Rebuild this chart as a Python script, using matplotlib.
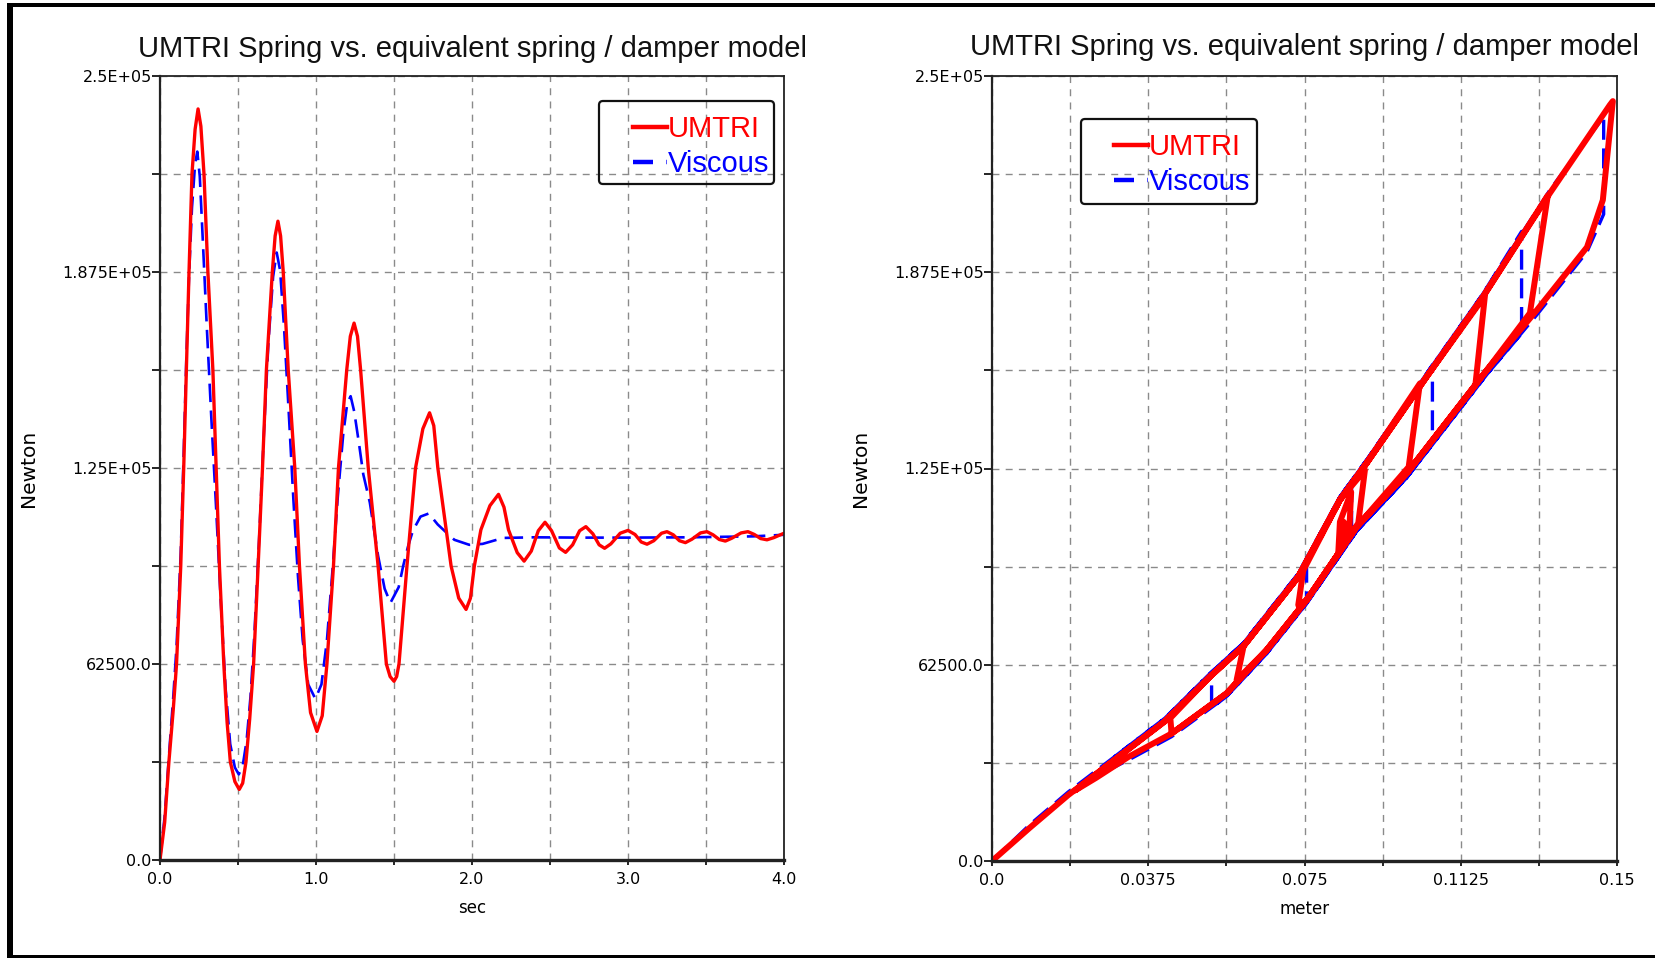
import matplotlib.pyplot as plt
from matplotlib.lines import Line2D
from matplotlib.patches import FancyBboxPatch, Rectangle
from matplotlib.transforms import IdentityTransform

# ---- time history (left) : sec / Newton
t_umtri = [0.000, 0.030, 0.057, 0.085, 0.106, 0.133, 0.152, 0.169, 0.186, 0.205,
           0.225, 0.244, 0.262, 0.282, 0.307, 0.339, 0.360, 0.381, 0.409, 0.430,
           0.451, 0.480, 0.508, 0.530, 0.551, 0.575, 0.600, 0.629, 0.657, 0.682,
           0.720, 0.738, 0.756, 0.773, 0.790, 0.822, 0.864, 0.894, 0.932, 0.965,
           1.006, 1.040, 1.070, 1.112, 1.144, 1.197, 1.220, 1.244, 1.266, 1.286,
           1.335, 1.398, 1.451, 1.475, 1.500, 1.517, 1.532, 1.583, 1.638, 1.685,
           1.728, 1.755, 1.781, 1.866, 1.915, 1.962, 1.990, 2.015, 2.057, 2.115,
           2.170, 2.205, 2.234, 2.290, 2.334, 2.380, 2.425, 2.468, 2.510, 2.560,
           2.600, 2.645, 2.690, 2.730, 2.775, 2.815, 2.850, 2.890, 2.950, 3.000,
           3.045, 3.085, 3.122, 3.165, 3.215, 3.250, 3.290, 3.330, 3.368, 3.410,
           3.465, 3.506, 3.545, 3.585, 3.624, 3.665, 3.725, 3.769, 3.810, 3.850,
           3.891, 3.935, 4.000]
f_umtri = [0, 12000, 31250, 48000, 62500, 93750, 125000, 156250, 187500, 218750,
           233000, 239500, 234000, 218750, 187500, 156250, 125000, 93750, 62500, 44000,
           31250, 25000, 22500, 24500, 31250, 45000, 62500, 93750, 125000, 156250,
           187500, 199000, 203700, 199000, 187500, 156250, 125000, 93750, 62500, 47000,
           41000, 46000, 62500, 93750, 125000, 156250, 167000, 171200, 167000, 156250,
           125000, 93750, 62500, 58500, 57000, 58500, 62500, 93750, 125000, 137500,
           142600, 138500, 125000, 93750, 83500, 79900, 83500, 93750, 105300, 113000,
           116600, 112500, 105300, 98000, 95300, 98500, 105000, 107700, 105000, 99500,
           98100, 100500, 105000, 106300, 104000, 100500, 99400, 100800, 104200, 105100,
           103800, 101400, 100700, 101800, 104200, 104700, 103700, 101800, 101200, 102300,
           104300, 104700, 103700, 102200, 101700, 102600, 104300, 104700, 103800, 102500,
           102100, 102800, 104200]

t_visc = [0.000, 0.030, 0.057, 0.085, 0.106, 0.133, 0.152, 0.169, 0.186, 0.205,
          0.225, 0.239, 0.255, 0.275, 0.300, 0.330, 0.360, 0.390, 0.420, 0.450,
          0.480, 0.505, 0.530, 0.555, 0.580, 0.605, 0.635, 0.665, 0.695, 0.725,
          0.748, 0.770, 0.795, 0.825, 0.855, 0.885, 0.915, 0.950, 0.996, 1.035,
          1.070, 1.105, 1.140, 1.175, 1.200, 1.222, 1.245, 1.275, 1.303, 1.345,
          1.398, 1.440, 1.477, 1.530, 1.560, 1.590, 1.621, 1.670, 1.723, 1.780,
          1.834, 1.887, 1.983, 2.068, 2.200, 2.400, 2.700, 3.000, 3.400, 3.800, 4.000]
f_visc = [0, 14000, 33000, 52000, 68000, 98000, 130000, 160000, 186000, 208000,
          222000, 225900, 218000, 197000, 170000, 140000, 112000, 82000, 55000, 37000,
          29500, 27300, 30000, 38000, 52000, 72000, 102000, 135000, 165000, 186000,
          193700, 188000, 170000, 143000, 115000, 90000, 70000, 56000, 51400, 56000,
          70000, 92000, 116000, 136000, 145500, 147900, 143000, 133000, 123000, 114000,
          97000, 86500, 82000, 87000, 94000, 100000, 105000, 109500, 110500, 107000,
          104500, 102100, 100500, 100800, 102700, 102900, 102800, 102800, 102900, 103200, 103700]

# ---- force / deflection (right) : meter / Newton
x_umtri = [0.0000, 0.0090, 0.0183, 0.0287, 0.0415, 0.0523, 0.0604, 0.0735, 0.0835, 0.0899,
           0.1043, 0.1178, 0.1339, 0.1483, 0.1490, 0.1466, 0.1428, 0.1308, 0.1188, 0.0995,
           0.0875, 0.0755, 0.0659, 0.0563, 0.0431, 0.0328, 0.0250, 0.0200,
           0.0287, 0.0415, 0.0523, 0.0604, 0.0735, 0.0835, 0.0899, 0.1043, 0.1178, 0.1334,
           0.1291, 0.1188, 0.0995, 0.0875, 0.0755, 0.0659, 0.0563, 0.0431,
           0.0428, 0.0523, 0.0604, 0.0735, 0.0835, 0.0899, 0.1043, 0.1183,
           0.1160, 0.0995, 0.0875, 0.0755, 0.0659, 0.0587,
           0.0604, 0.0735, 0.0835, 0.0899, 0.1027,
           0.1000, 0.0875, 0.0755, 0.0735,
           0.0747, 0.0835, 0.0895,
           0.0879, 0.0831, 0.0835, 0.0862, 0.0857, 0.0842, 0.0844, 0.0852]
f_umtri_x = [0, 10500, 21000, 31500, 44500, 58700, 68500, 90500, 115000, 126700,
             154200, 179600, 212700, 240800, 242000, 210500, 195500, 175500, 156400, 123400,
             106400, 83100, 67200, 53400, 40600, 33200, 26500, 22500,
             31500, 44500, 58700, 68500, 90500, 115000, 126700, 154200, 179600, 212000,
             174500, 156400, 123400, 106400, 83100, 67200, 53400, 40600,
             45500, 58700, 68500, 90500, 115000, 126700, 154200, 180000,
             151500, 123400, 106400, 83100, 67200, 57600,
             68500, 90500, 115000, 126700, 152100,
             125500, 106400, 83100, 81500,
             92500, 115000, 124500,
             107600, 98000, 108000, 117500, 104000, 101000, 108000, 106000]

x_visc = [0.0000, 0.0090, 0.0183, 0.0287, 0.0415, 0.0523, 0.0604, 0.0735, 0.0835, 0.0899,
          0.1043, 0.1178, 0.1339, 0.1468, 0.1468, 0.1428, 0.1308, 0.1188, 0.0995, 0.0875,
          0.0755, 0.0659, 0.0563, 0.0431, 0.0328, 0.0250,
          0.0287, 0.0415, 0.0523, 0.0604, 0.0735, 0.0835, 0.0899, 0.1043, 0.1178, 0.1271,
          0.1271, 0.1188, 0.0995, 0.0875, 0.0755, 0.0659, 0.0563, 0.0527,
          0.0527, 0.0604, 0.0735, 0.0835, 0.0899, 0.1043, 0.1057,
          0.1057, 0.0995, 0.0875, 0.0755,
          0.0755, 0.0835, 0.0863,
          0.0863, 0.0850, 0.0855]
f_visc_x = [0, 11500, 22000, 32500, 45500, 59700, 69500, 91500, 116000, 127700,
            155200, 180600, 213700, 237000, 206000, 194000, 174000, 155000, 122000, 105000,
            82000, 66000, 52400, 39600, 32200, 27000,
            32500, 45500, 59700, 69500, 91500, 116000, 127700, 155200, 180600, 200500,
            168000, 155000, 122000, 105000, 82000, 66000, 52400, 48800,
            60000, 69500, 91500, 116000, 127700, 155200, 158000,
            133000, 122000, 105000, 82000,
            95000, 116000, 121000,
            104000, 101000, 103000]

# ---- axes ticks
y_ticks = [0, 31250, 62500, 93750, 125000, 156250, 187500, 218750, 250000]
y_tick_labels = ["0.0", "", "62500.0", "", "1.25E+05", "", "1.875E+05", "", "2.5E+05"]
t_ticks = [0.0, 0.5, 1.0, 1.5, 2.0, 2.5, 3.0, 3.5, 4.0]
t_tick_labels = ["0.0", "", "1.0", "", "2.0", "", "3.0", "", "4.0"]
x_ticks = [0.0, 0.01875, 0.0375, 0.05625, 0.075, 0.09375, 0.1125, 0.13125, 0.15]
x_tick_labels = ["0.0", "", "0.0375", "", "0.075", "", "0.1125", "", "0.15"]

title = "UMTRI Spring vs. equivalent spring / damper model"
series_names = ["UMTRI", "Viscous"]

W, H = 1655, 958
fig = plt.figure(figsize=(W / 100, H / 100), dpi=100)
fig.patch.set_facecolor("white")


def axes_px(left, top, right, bottom):
    return fig.add_axes([left / W, 1 - bottom / H, (right - left) / W, (bottom - top) / H])


def style(ax, xt, xtl, xlim, xlabel, title_pad):
    ax.set_xlim(*xlim)
    ax.set_ylim(0, 250000)
    ax.set_xticks(xt)
    ax.set_xticklabels(xtl)
    ax.set_yticks(y_ticks)
    ax.set_yticklabels(y_tick_labels)
    ax.grid(True, color="#8a8a8a", lw=1.0, linestyle=(0, (5, 4.5)))
    ax.set_axisbelow(True)
    for side, w in (("left", 1.6), ("bottom", 2.4), ("top", 1.3), ("right", 1.3)):
        ax.spines[side].set_linewidth(w)
        ax.spines[side].set_color("#222222")
    ax.tick_params(axis="y", direction="out", length=5.5, width=1.2, pad=0.5, labelsize=11.5)
    ax.tick_params(axis="x", direction="out", length=3.5, width=1.2, pad=5, labelsize=11.5)
    ax.set_xlabel(xlabel, fontsize=12, labelpad=9)
    ax.set_ylabel("Newton", fontsize=14.5)
    ax.yaxis.set_label_coords(-0.195, 0.5)
    ax.set_title(title, fontsize=21, family="Liberation Sans", pad=title_pad, color="#111111")


def legend_box(ax, box, anchor):
    handles = [Line2D([], [], color="red", lw=3.2),
               Line2D([], [], color="blue", lw=3.2, dashes=(4.5, 3))]
    leg = ax.legend(handles, series_names, loc="upper left", frameon=False,
                    bbox_to_anchor=(anchor[0] / W, 1 - anchor[1] / H),
                    bbox_transform=fig.transFigure,
                    prop={"family": "Liberation Sans", "size": 21},
                    handlelength=1.15, handletextpad=0.05, labelspacing=0.25,
                    borderpad=0, borderaxespad=0)
    leg.get_texts()[0].set_color("red")
    leg.get_texts()[1].set_color("blue")
    l, t, r, b = box
    fig.add_artist(FancyBboxPatch((l, H - b), r - l, b - t,
                                  boxstyle="round,pad=0,rounding_size=4",
                                  transform=IdentityTransform(),
                                  facecolor="none", edgecolor="#111111", lw=1.6))


ax1 = axes_px(160, 76, 784, 860)
ax1.plot(t_visc, f_visc, color="blue", lw=1.9, dashes=(7, 3.2))
ax1.plot(t_umtri, f_umtri, color="red", lw=2.4)
style(ax1, t_ticks, t_tick_labels, (0, 4.0), "sec", 13.7)
legend_box(ax1, (599, 101, 774, 184), (633, 115))

ax2 = axes_px(992, 76, 1617, 861)
ax2.plot(x_visc, f_visc_x, color="blue", lw=2.4, dashes=(6, 2.6))
ax2.plot(x_umtri, f_umtri_x, color="red", lw=4.3, solid_joinstyle="round")
style(ax2, x_ticks, x_tick_labels, (0, 0.15), "meter", 15)
legend_box(ax2, (1081, 119, 1257, 204), (1114, 133))

# screenshot frame
for (l, t, r, b) in [(7, 3, W, 7), (7, 3, 13, H), (7, H - 3, W, H)]:
    fig.add_artist(Rectangle((l, H - b), r - l, b - t, transform=IdentityTransform(),
                             facecolor="black", edgecolor="none"))

fig.savefig("out.png", dpi=100, facecolor="white")
